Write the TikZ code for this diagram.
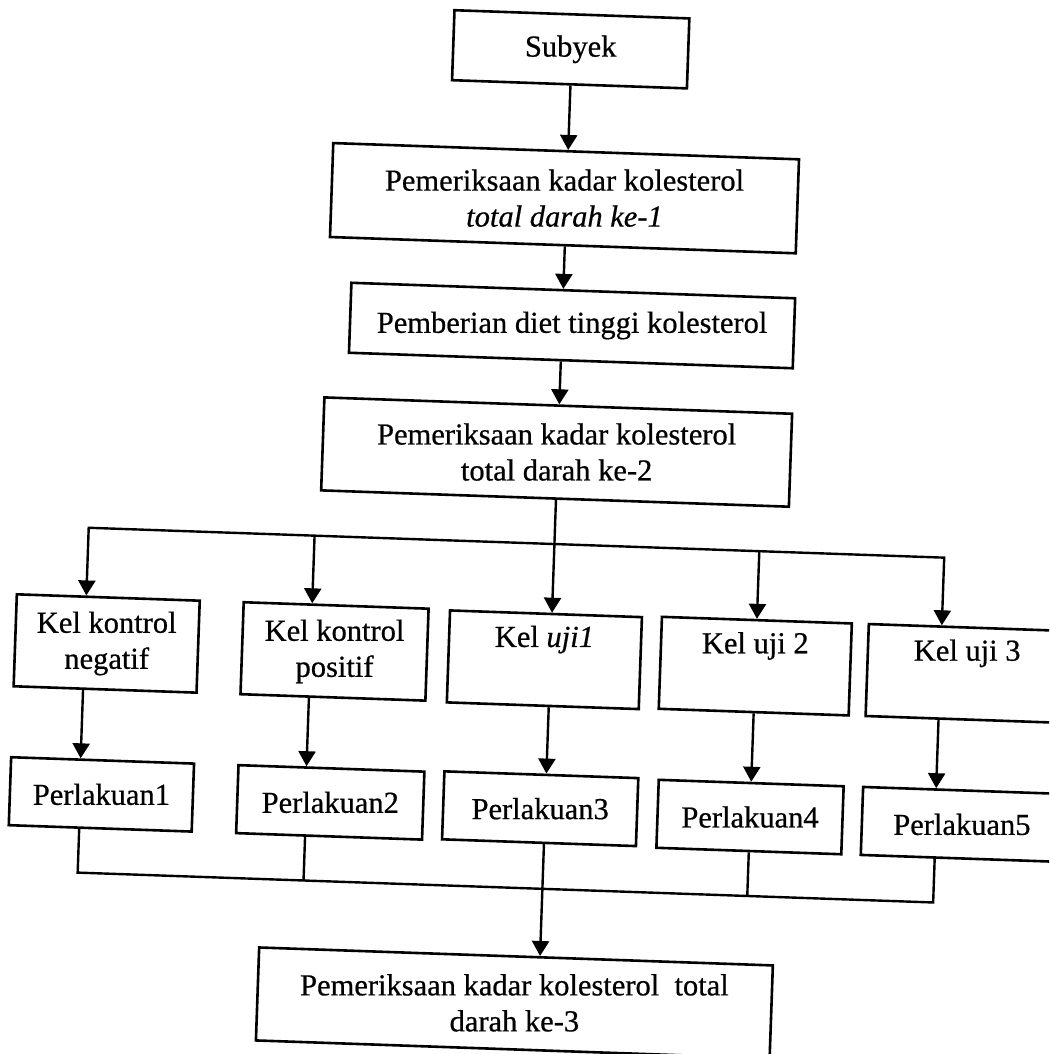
\documentclass[tikz,border=0pt]{standalone}
\usepackage{fontspec}
\setmainfont{Liberation Serif}[FakeBold=0.6]
\usetikzlibrary{arrows.meta,calc}
\begin{document}
\begin{tikzpicture}[x=1pt,y=-1pt,
  box/.style={draw, line width=2.6pt, inner sep=0pt},
  txt/.style={align=center, inner sep=0pt, font=\fontsize{30.5}{36}\selectfont},
  ln/.style={line width=2.4pt},
  arr/.style={ln, -{Triangle[width=17pt,length=15pt]}},
  arrtwo/.style={ln, {Triangle[width=17pt,length=15pt]}-{Triangle[width=17pt,length=15pt]}}]
\useasboundingbox (0,0) rectangle (1049,1054);
\clip (0,0) rectangle (1049,1054);
\fill[white] (0,0) rectangle (1049,1054);
\begin{scope}[rotate around={-2:(525,527)}, transform shape]
% main column
\node[box, minimum width=235pt, minimum height=70pt] (sub) at (554,48) {};
\node[box, minimum width=466pt, minimum height=94pt] (b2) at (553,197) {};
\node[box, minimum width=444pt, minimum height=70pt] (b3) at (565,324) {};
\node[box, minimum width=468pt, minimum height=93pt] (b4) at (554,451) {};
% groups
\node[box, minimum width=183pt, minimum height=92pt] (k1) at (111,658) {};
\node[box, minimum width=185pt, minimum height=92pt] (k2) at (339,658) {};
\node[box, minimum width=192pt, minimum height=92pt] (k3) at (549,659) {};
\node[box, minimum width=190pt, minimum height=92pt] (k4) at (760,658) {};
\node[box, minimum width=200pt, minimum height=92pt] (k5) at (972,658) {};
% treatments
\node[box, minimum width=183pt, minimum height=68pt] (p1) at (111,809) {};
\node[box, minimum width=186pt, minimum height=68pt] (p2) at (340,809) {};
\node[box, minimum width=194pt, minimum height=68pt] (p3) at (550,808) {};
\node[box, minimum width=185pt, minimum height=68pt] (p4) at (760,809) {};
\node[box, minimum width=200pt, minimum height=68pt] (p5) at (972,809) {};
% final
\node[box, minimum width=514pt, minimum height=93pt] (fin) at (531,1003) {};
% split and merge points
\coordinate (s1) at (89,543);
\coordinate (s2) at (315,543);
\coordinate (s3) at (555,543);
\coordinate (s4) at (760,543);
\coordinate (s5) at (945,543);
\coordinate (m1) at (90,888);
\coordinate (m2) at (316,888);
\coordinate (m3) at (555,888);
\coordinate (m4) at (760,888);
\coordinate (m5) at (946,888);
% spine arrows
\draw[arr] ($(sub.south west)!(s3)!(sub.south east)$) -- ($(b2.north west)!(s3)!(b2.north east)$);
\draw[arr] ($(b2.south west)!(s3)!(b2.south east)$) -- ($(b3.north west)!(s3)!(b3.north east)$);
\draw[arr] ($(b3.south west)!(s3)!(b3.south east)$) -- ($(b4.north west)!(s3)!(b4.north east)$);
\draw[arr] ($(b4.south west)!(s3)!(b4.south east)$) -- ($(k3.north west)!(s3)!(k3.north east)$);
% split
\draw[arrtwo] ($(k1.north west)!(s1)!(k1.north east)$) -- (s1) -- (s5)
  -- ($(k5.north west)!(s5)!(k5.north east)$);
\draw[arr] (s2) -- ($(k2.north west)!(s2)!(k2.north east)$);
\draw[arr] (s4) -- ($(k4.north west)!(s4)!(k4.north east)$);
% groups to treatments
\foreach \i in {1,...,5}{
  \draw[arr] ($(k\i.south west)!(s\i)!(k\i.south east)$) -- ($(p\i.north west)!(s\i)!(p\i.north east)$);
}
% merge
\draw[ln] ($(p1.south west)!(m1)!(p1.south east)$) -- (m1) -- (m5)
  -- ($(p5.south west)!(m5)!(p5.south east)$);
\draw[ln] ($(p2.south west)!(m2)!(p2.south east)$) -- (m2);
\draw[ln] ($(p4.south west)!(m4)!(p4.south east)$) -- (m4);
\draw[arr] ($(p3.south west)!(m3)!(p3.south east)$) -- ($(fin.north west)!(m3)!(fin.north east)$);
\end{scope}
% texts
\node[txt] (subt) at (sub.center) {Subyek};
\node[txt] (b2t) at (b2.center) {Pemeriksaan kadar kolesterol\\\textit{total darah ke-1}};
\node[txt] (b3t) at (b3.center) {Pemberian diet tinggi kolesterol};
\node[txt] (b4t) at (b4.center) {Pemeriksaan kadar kolesterol\\total darah ke-2};
\node[txt] (k1t) at (k1.center) {Kel kontrol\\negatif};
\node[txt] (k2t) at (k2.center) {Kel kontrol\\positif};
\node[txt] (k3t) at (k3.center) {Kel \textit{uji1}\\\strut};
\node[txt] (k4t) at (k4.center) {Kel uji 2\\\strut};
\node[txt] (k5t) at (k5.center) {Kel uji 3\\\strut};
\node[txt] (p1t) at (p1.center) {Perlakuan1};
\node[txt] (p2t) at (p2.center) {Perlakuan2};
\node[txt] (p3t) at (p3.center) {Perlakuan3};
\node[txt] (p4t) at (p4.center) {Perlakuan4};
\node[txt] (p5t) at (p5.center) {Perlakuan5};
\node[txt] (fint) at (fin.center) {Pemeriksaan kadar kolesterol\ \ total\\darah ke-3};
\end{tikzpicture}
\end{document}
